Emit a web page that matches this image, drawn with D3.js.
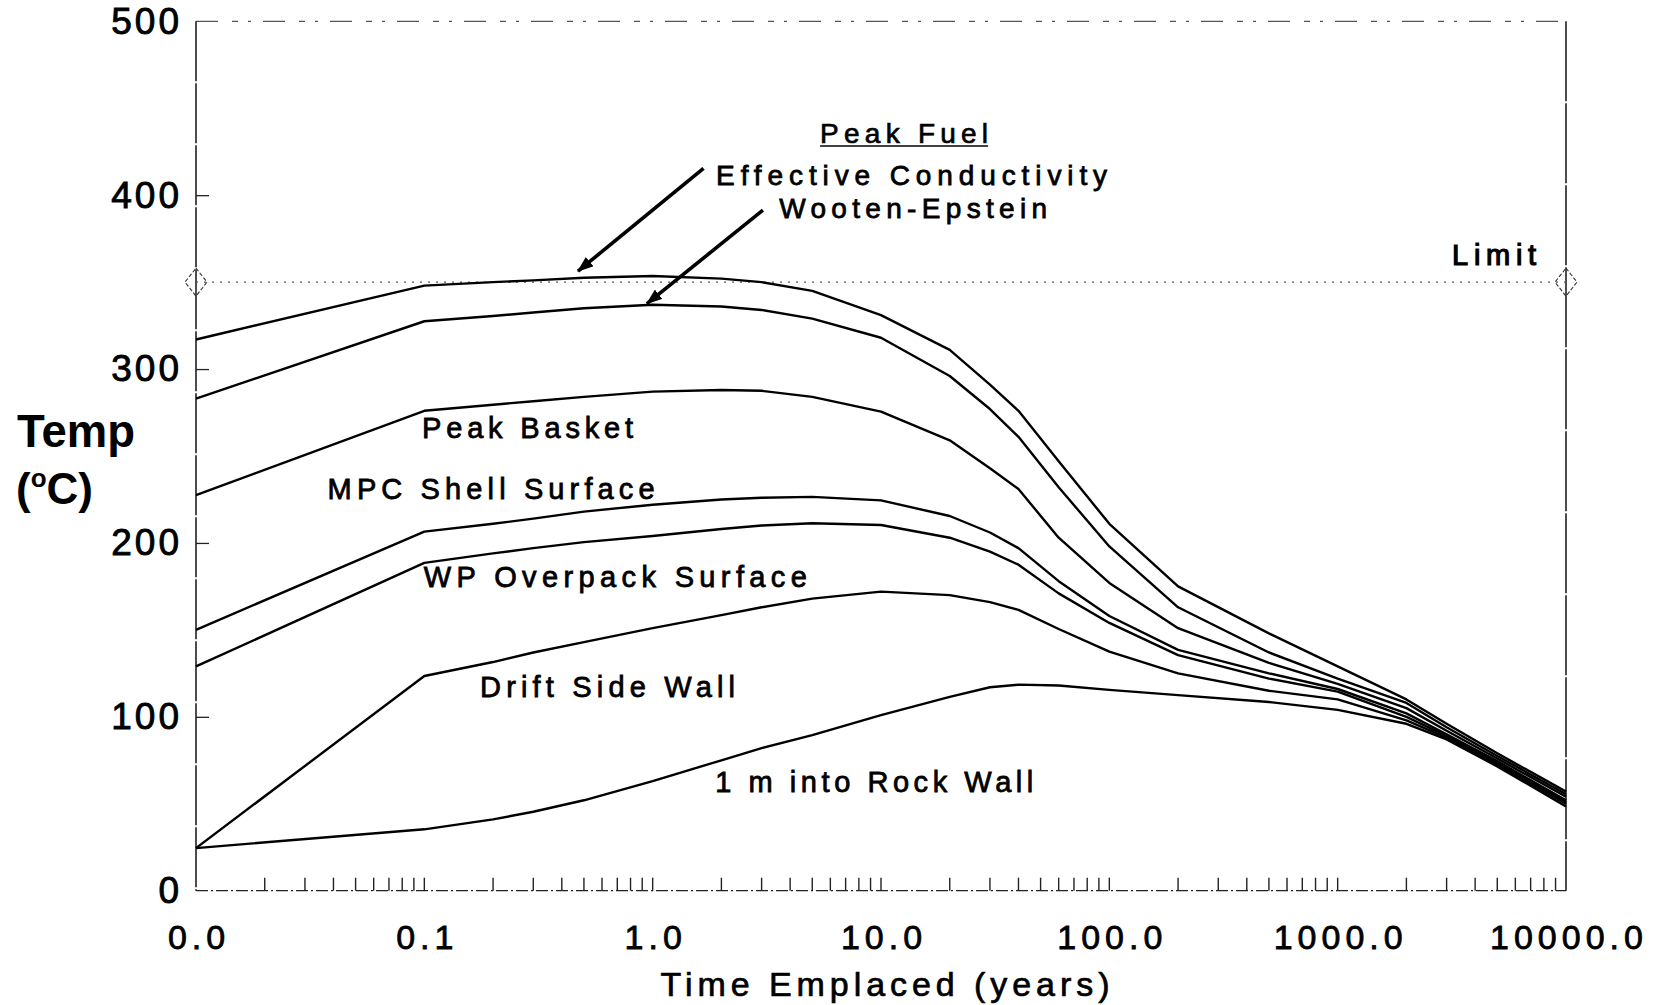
<!DOCTYPE html>
<html>
<head>
<meta charset="utf-8">
<script src="https://cdn.jsdelivr.net/npm/d3@7"></script>
<style>
  html, body { margin: 0; padding: 0; background: #fff; }
  svg { display: block; }
  text { font-family: "Liberation Sans", Arial, Helvetica, sans-serif; fill: #000; }
</style>
</head>
<body>
<svg id="chart" width="1657" height="1005"></svg>
<script>
// ---------------- DATA ----------------
// time (years); first point (t = 0) is drawn at the left edge, 0.01
const times = [0.01, 0.1, 0.2, 0.3, 0.5, 1, 2, 3, 5, 10, 20, 30, 40, 60, 100, 200, 500, 1000, 2000, 3000, 5000, 10000];

const effectiveConductivity = [317, 348, 350, 351, 352.5, 353.5, 352, 350, 345, 331, 311, 291, 276, 247, 211, 175, 148, 129, 110, 96, 79, 57];
const wootenEpstein         = [283, 327.5, 330.5, 332.5, 335, 337, 336, 334, 329, 318, 296, 277, 261, 232, 198, 163, 137, 122, 108, 94, 77.5, 55.5];
const peakBasket            = [227.5, 276, 279.5, 281.5, 284, 287, 288, 287.5, 284, 275.5, 259, 243, 231, 203, 177, 151, 131, 119, 105, 92, 76, 54];
const mpcShellSurface       = [150, 206.5, 211, 214, 218, 222, 225, 226, 226.5, 224.5, 215.5, 206, 197, 178, 158, 138.5, 125, 116, 102, 90, 74.5, 52];
const wpOverpackSurface     = [129, 188.5, 194, 197, 200.5, 204, 208, 210, 211.3, 210.3, 203, 195, 187.5, 171, 154, 135.5, 122, 114.5, 100, 89, 73.5, 51];
const driftSideWall         = [24.5, 123.5, 131.5, 137, 143, 151, 158.5, 163, 168, 172, 170, 166, 161.5, 150.5, 137.5, 125, 115, 110, 98, 88, 72.5, 50];
const rockWall1m            = [24.5, 35.3, 41, 45.4, 52, 63, 75, 82, 89.5, 101, 111.5, 117, 118.5, 118, 115.5, 112.5, 108.5, 104, 96, 87, 71.5, 48.5];

const seriesNames = ["Effective Conductivity", "Wooten-Epstein", "Peak Basket", "MPC Shell Surface", "WP Overpack Surface", "Drift Side Wall", "1 m into Rock Wall"];
const seriesValues = [effectiveConductivity, wootenEpstein, peakBasket, mpcShellSurface, wpOverpackSurface, driftSideWall, rockWall1m];

const limitValue = 350;

const xTickValues = [0.01, 0.1, 1, 10, 100, 1000, 10000];
const xTickLabels = ["0.0", "0.1", "1.0", "10.0", "100.0", "1000.0", "10000.0"];
const yTickValues = [0, 100, 200, 300, 400, 500];

// ---------------- LAYOUT ----------------
const svg = d3.select("#chart");
const plotLeft = 196, plotRight = 1566, plotTop = 21.3, plotBottom = 890.7;

const x = d3.scaleLog().domain([0.01, 10000]).range([plotLeft, plotRight]);
const y = d3.scaleLinear().domain([0, 500]).range([plotBottom, plotTop]);

// ---------------- FRAME ----------------
const frame = svg.append("g").attr("stroke", "#222").attr("fill", "none");
frame.append("line").attr("x1", plotLeft).attr("x2", plotRight).attr("y1", plotTop).attr("y2", plotTop)
  .attr("stroke-width", 1.2).attr("stroke", "#555").attr("stroke-dasharray", "22,14,6,10,3,12");
frame.append("line").attr("x1", plotLeft).attr("x2", plotLeft).attr("y1", plotTop).attr("y2", plotBottom)
  .attr("stroke-width", 1.6).attr("stroke-dasharray", "60,2");
frame.append("line").attr("x1", plotRight).attr("x2", plotRight).attr("y1", plotTop).attr("y2", plotBottom)
  .attr("stroke-width", 1.6).attr("stroke-dasharray", "80,2");
frame.append("line").attr("x1", plotLeft).attr("x2", plotRight).attr("y1", plotBottom).attr("y2", plotBottom)
  .attr("stroke-width", 1.3).attr("stroke-dasharray", "12,3,2,3");

// minor log ticks on bottom axis (pointing up)
const minorTicks = [];
for (let d = 0.01; d < 9999; d *= 10) {
  for (let k = 2; k <= 10; k++) {
    const v = d * k;
    if (v < 9999) minorTicks.push(v);
  }
}
svg.append("g").selectAll("line").data(minorTicks).join("line")
  .attr("x1", d => x(d)).attr("x2", d => x(d))
  .attr("y1", plotBottom).attr("y2", plotBottom - 13)
  .attr("stroke", "#222").attr("stroke-width", 1.4);

// ---------------- AXES ----------------
const yAxis = svg.append("g").attr("transform", `translate(${plotLeft},0)`)
  .call(d3.axisLeft(y).tickValues(yTickValues).tickSizeInner(-13).tickSizeOuter(0).tickPadding(17).tickFormat(d3.format("d")));
yAxis.select(".domain").remove();
yAxis.selectAll(".tick line").attr("stroke", "#222").attr("stroke-width", 1.3)
  .filter(d => d === 0 || d === 500).remove();
yAxis.selectAll(".tick text")
  .attr("font-size", 37).attr("letter-spacing", "3px").attr("dx", 3)
  .attr("stroke", "#000").attr("stroke-width", 0.9)
  .attr("font-family", "'Liberation Sans', Arial, sans-serif").attr("fill", "#000");

const xAxis = svg.append("g").attr("transform", `translate(0,${plotBottom})`)
  .call(d3.axisBottom(x).tickValues(xTickValues).tickSize(0).tickPadding(34)
    .tickFormat((d, i) => xTickLabels[i]));
xAxis.select(".domain").remove();
xAxis.selectAll(".tick text")
  .attr("font-size", 34).attr("letter-spacing", "5px").attr("dx", 2.5)
  .attr("stroke", "#000").attr("stroke-width", 0.8)
  .attr("font-family", "'Liberation Sans', Arial, sans-serif").attr("fill", "#000");

// axis titles
svg.append("text").attr("x", 885).attr("y", 996).attr("text-anchor", "middle")
  .attr("font-size", 34).attr("textLength", 449).attr("lengthAdjust", "spacing")
  .attr("stroke", "#000").attr("stroke-width", 0.7)
  .text("Time Emplaced (years)");

svg.append("text").attr("x", 17).attr("y", 447).attr("font-size", 47).attr("font-weight", "bold")
  .attr("textLength", 118).attr("lengthAdjust", "spacingAndGlyphs").text("Temp");
const unit = svg.append("text").attr("x", 16).attr("y", 504).attr("font-size", 44).attr("font-weight", "bold");
unit.append("tspan").text("(");
unit.append("tspan").attr("font-size", 26).attr("dy", -17).text("o");
unit.append("tspan").attr("dy", 17).text("C)");

// ---------------- LIMIT LINE ----------------
svg.append("line").attr("x1", x(0.01)).attr("x2", x(10000)).attr("y1", y(limitValue)).attr("y2", y(limitValue))
  .attr("stroke", "#555").attr("stroke-width", 1.3).attr("stroke-dasharray", "2,6");
[0.01, 10000].forEach(t => {
  const cx = x(t), cy = y(limitValue);
  svg.append("path")
    .attr("d", `M${cx},${cy - 14}L${cx + 11},${cy}L${cx},${cy + 14}L${cx - 11},${cy}Z`)
    .attr("fill", "none").attr("stroke", "#333").attr("stroke-width", 1.1).attr("stroke-dasharray", "4,2");
});

// ---------------- CURVES ----------------
const line = d3.line().x(d => x(d.t)).y(d => y(d.v)).curve(d3.curveLinear);
svg.append("g").selectAll("path")
  .data(seriesValues.map((vals, i) => ({ name: seriesNames[i], pts: vals.map((v, j) => ({ t: times[j], v })) })))
  .join("path")
  .attr("d", d => line(d.pts))
  .attr("fill", "none").attr("stroke", "#000").attr("stroke-width", 2.4).attr("stroke-linejoin", "round");

// ---------------- ANNOTATIONS ----------------
const defs = svg.append("defs");
defs.append("marker").attr("id", "ah").attr("markerUnits", "userSpaceOnUse")
  .attr("viewBox", "0 0 16 12").attr("refX", 15).attr("refY", 6)
  .attr("markerWidth", 16).attr("markerHeight", 12).attr("orient", "auto")
  .append("path").attr("d", "M0,0L16,6L0,12Z").attr("fill", "#000");

const arrows = [
  { from: [1.67, 415.4], to: [0.471, 356.3] },
  { from: [3.04, 391.4], to: [0.944, 337.6] }
];
svg.append("g").selectAll("line").data(arrows).join("line")
  .attr("x1", d => x(d.from[0])).attr("y1", d => y(d.from[1]))
  .attr("x2", d => x(d.to[0])).attr("y2", d => y(d.to[1]))
  .attr("stroke", "#000").attr("stroke-width", 3.6).attr("marker-end", "url(#ah)");

const labels = [
  { text: "Peak Fuel", t: 5.41, v: 430, w: 168, fs: 28, sw: 0.7, underline: true },
  { text: "Effective Conductivity", t: 1.896, v: 405.8, w: 391, fs: 28, sw: 0.8 },
  { text: "Wooten-Epstein", t: 3.58, v: 386.7, w: 268, fs: 28, sw: 0.8 },
  { text: "Peak Basket", t: 0.0977, v: 260.1, w: 211, fs: 29, sw: 0.8 },
  { text: "MPC Shell Surface", t: 0.0377, v: 225.1, w: 327, fs: 29, sw: 0.8 },
  { text: "WP Overpack Surface", t: 0.0995, v: 174.8, w: 383, fs: 29, sw: 0.8 },
  { text: "Drift Side Wall", t: 0.1754, v: 111.2, w: 255, fs: 29, sw: 0.8 },
  { text: "1 m into Rock Wall", t: 1.88, v: 56.9, w: 318, fs: 29, sw: 0.8 },
  { text: "Limit", t: 3170, v: 359.8, w: 84, fs: 29, sw: 1.2 }
];
const lg = svg.append("g");
labels.forEach(l => {
  lg.append("text").attr("x", x(l.t)).attr("y", y(l.v))
    .attr("font-size", l.fs).attr("textLength", l.w).attr("lengthAdjust", "spacing")
    .attr("stroke", "#000").attr("stroke-width", l.sw)
    .text(l.text);
  if (l.underline) {
    lg.append("line").attr("x1", x(l.t)).attr("x2", x(l.t) + l.w)
      .attr("y1", y(l.v) + 3).attr("y2", y(l.v) + 3)
      .attr("stroke", "#000").attr("stroke-width", 1.6);
  }
});
</script>
</body>
</html>
